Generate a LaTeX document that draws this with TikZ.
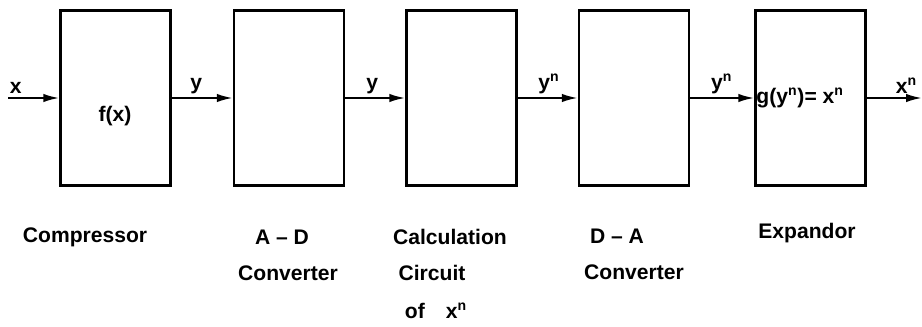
\documentclass[tikz,border=0pt]{standalone}
\usepackage{fontspec}
\setmainfont{Liberation Sans}
\usetikzlibrary{arrows.meta,positioning}

\begin{document}
\begin{tikzpicture}[x=0.02cm,y=-0.02cm,font=\fontsize{12}{14}\selectfont\bfseries,
 blk/.style={draw,line width=1.4pt,minimum width=2.2cm,minimum height=3.5cm,inner sep=0pt},
 sig/.style={-{Latex[length=3.2mm,width=1.7mm]},line width=1.2pt},
 lbl/.style={above,inner sep=2pt},
 capt/.style={inner sep=0pt}]
\useasboundingbox (0,0) rectangle (922,327);
\node[blk] (comp) at (115.5,98) {};
\node[blk] (adc) at (289,98) {};
\node[blk] (calc) at (461.5,98) {};
\node[blk] (dac) at (634,98) {};
\node[blk] (expd) at (810.5,98) {};
\node at (115,116) {f(x)};
\node[anchor=west,inner sep=1pt] at (expd.west) {g(y\textsuperscript{n})= x\textsuperscript{n}};
\coordinate (in) at (8,98);\coordinate (out) at (922,98);
\draw[sig] (in)--node[lbl,pos=.15]{x}(comp);
\draw[sig] (comp)--node[lbl,pos=.4]{y}(adc);
\draw[sig] (adc)--node[lbl,pos=.45]{y}(calc);
\draw[sig] (calc)--node[lbl,pos=.52]{y\textsuperscript{n}}(dac);
\draw[sig] (dac)--node[lbl,pos=.49]{y\textsuperscript{n}}(expd);
\draw[sig] (expd)--node[lbl,pos=.72]{x\textsuperscript{n}}(out);
\node[capt] (c1) at (85,237) {Compressor};
\node[capt] (c2) at (282,237) {A -- D};
\node[capt] (c2b) at (288,273) {Converter};
\node[capt] (c3) at (450,237) {Calculation};
\node[capt] (c3b) at (432,273) {Circuit};
\node[capt] (c3c) at (436,311) {of\quad x\textsuperscript{n}};
\node[capt] (c4) at (617,236) {D -- A};
\node[capt] (c4b) at (634,272) {Converter};
\node[capt] (c5) at (807,233) {Expandor};
\end{tikzpicture}
\end{document}
